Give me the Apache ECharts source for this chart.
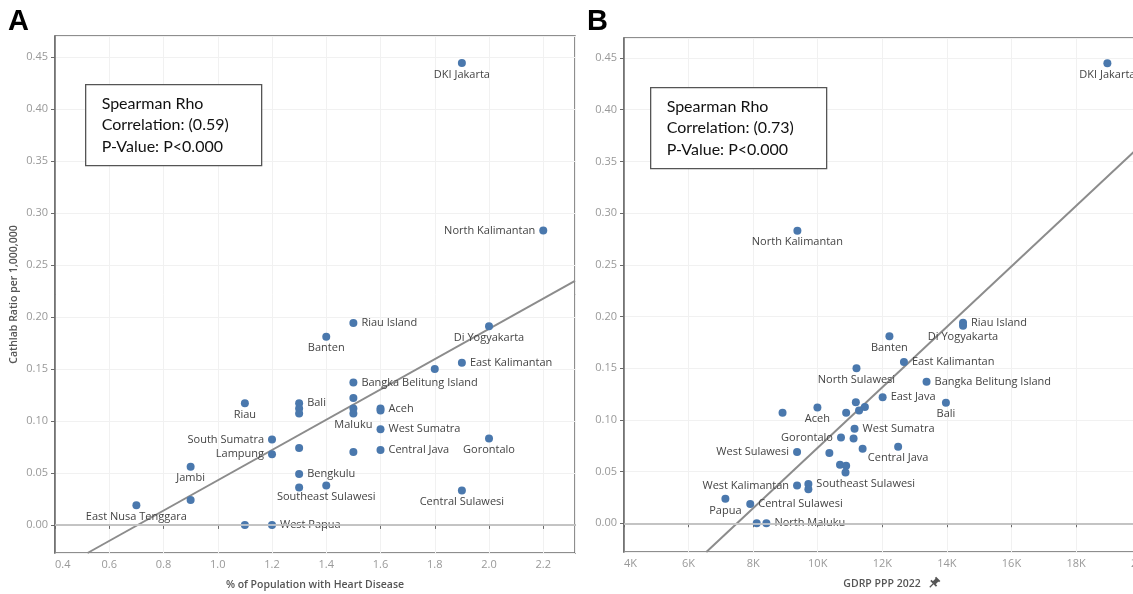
<!DOCTYPE html>
<html>
<head>
<meta charset="utf-8">
<title>Cathlab ratio vs heart disease and GDRP</title>
<script src="https://cdn.jsdelivr.net/npm/echarts@6/dist/echarts.min.js"></script>
<style>
  html, body { margin: 0; padding: 0; background: #fff; }
  #chart { width: 1133px; height: 594px; }
</style>
</head>
<body>
<div id="chart"></div>
<script>
// panel A: % of population with heart disease vs cathlab ratio
const namesA = ['DKI Jakarta', 'North Kalimantan', 'Riau Island', 'Banten', 'Di Yogyakarta', 'East Kalimantan', '', 'Bangka Belitung Island', '', 'Riau',
  'Bali', '', '', '', 'Maluku', 'Aceh', '', 'West Sumatra', 'South Sumatra', '', 'Lampung', '', 'Central Java', 'Gorontalo', 'Jambi',
  'Bengkulu', '', 'Southeast Sulawesi', 'Central Sulawesi', '', 'East Nusa Tenggara', '', 'West Papua']
const heartA = [1.9, 2.2, 1.5, 1.4, 2.0, 1.9, 1.8, 1.5, 1.5, 1.1,
  1.3, 1.3, 1.3, 1.5, 1.5, 1.6, 1.6, 1.6, 1.2, 1.3, 1.2, 1.5, 1.6, 2.0, 0.9,
  1.3, 1.3, 1.4, 1.9, 0.9, 0.7, 1.1, 1.2]
const cathA = [0.444, 0.283, 0.194, 0.181, 0.191, 0.156, 0.150, 0.137, 0.122, 0.117,
  0.117, 0.112, 0.107, 0.112, 0.107, 0.112, 0.110, 0.092, 0.082, 0.074, 0.068, 0.070, 0.072, 0.083, 0.056,
  0.049, 0.036, 0.038, 0.033, 0.024, 0.019, 0.000, 0.000]
const trendA = [[0.52, -0.027], [2.317, 0.2345]]

// panel B: GDRP PPP 2022 vs cathlab ratio
const namesB = ['DKI Jakarta', 'North Kalimantan', 'Riau Island', 'Di Yogyakarta', 'Banten', 'East Kalimantan', 'North Sulawesi', 'Bangka Belitung Island', 'East Java', 'Bali',
  '', '', '', '', 'Aceh', '', 'West Sumatra', 'Gorontalo', '', 'Central Java', '', 'West Sulawesi', '', '', '',
  '', 'West Kalimantan', 'Southeast Sulawesi', '', 'Papua', 'Central Sulawesi', '', 'North Maluku']
const gdrpB = [18970, 9370, 14500, 14500, 12220, 12670, 11200, 13370, 12010, 13970,
  11180, 11460, 11280, 10880, 9990, 8910, 11140, 10720, 11110, 12490, 11390, 9360, 10360, 10690, 10880,
  10860, 9360, 9710, 9710, 7140, 7910, 8110, 8410]
const cathB = [0.445, 0.283, 0.194, 0.191, 0.181, 0.156, 0.150, 0.137, 0.122, 0.1166,
  0.117, 0.1125, 0.109, 0.107, 0.112, 0.107, 0.0914, 0.083, 0.082, 0.074, 0.072, 0.069, 0.068, 0.0565, 0.0556,
  0.049, 0.0365, 0.038, 0.033, 0.0236, 0.0187, 0, 0]
const trendB = [[6550, -0.0278], [20600, 0.3829]]

const statsA = ['Spearman Rho', 'Correlation: (0.59)', 'P-Value: P<0.000']
const statsB = ['Spearman Rho', 'Correlation: (0.73)', 'P-Value: P<0.000']

const labelSideA = {
  'DKI Jakarta': 'bottom', 'North Kalimantan': 'left', 'Riau Island': 'right', 'Banten': 'bottom',
  'Di Yogyakarta': 'bottom', 'East Kalimantan': 'right', 'Bangka Belitung Island': 'right', 'Riau': 'bottom',
  'Bali': 'right', 'Maluku': 'bottom', 'Aceh': 'right', 'West Sumatra': 'right', 'South Sumatra': 'left',
  'Lampung': 'left', 'Central Java': 'right', 'Gorontalo': 'bottom', 'Jambi': 'bottom', 'Bengkulu': 'right',
  'Southeast Sulawesi': 'bottom', 'Central Sulawesi': 'bottom', 'East Nusa Tenggara': 'bottom', 'West Papua': 'right'
}
const labelSideB = {
  'DKI Jakarta': 'bottom', 'North Kalimantan': 'bottom', 'Riau Island': 'right', 'Di Yogyakarta': 'bottom',
  'Banten': 'bottom', 'East Kalimantan': 'right', 'North Sulawesi': 'bottom', 'Bangka Belitung Island': 'right',
  'East Java': 'right', 'Bali': 'bottom', 'Aceh': 'bottom', 'West Sumatra': 'right', 'Gorontalo': 'left',
  'Central Java': 'bottom', 'West Sulawesi': 'left', 'West Kalimantan': 'left', 'Southeast Sulawesi': 'right',
  'Papua': 'bottom', 'Central Sulawesi': 'right', 'North Maluku': 'right'
}

const FONT = 'Open Sans'
const BLUE = '#4a78ad'
const FRAME = '#6a6a6a'

function points (xs, ys, names, sides) {
  return xs.map((x, i) => {
    const name = names[i]
    const side = sides[name]
    return {
      name: name,
      value: [x, ys[i]],
      label: name ? {
        show: true,
        position: side,
        distance: side === 'bottom' ? 2 : 4,
        formatter: '{b}'
      } : { show: false }
    }
  })
}

function near (v, step) {
  const k = Math.round(v / step)
  return Math.abs(v - k * step) < step * 1e-3
}

function xAxisOpt (idx, min, max, step, fmt, name, pad) {
  return {
    type: 'value',
    gridIndex: idx,
    min: min,
    max: max,
    minInterval: step,
    maxInterval: step,
    name: name,
    nameLocation: 'middle',
    nameGap: 27,
    nameTextStyle: { fontFamily: FONT, fontSize: 10.5, fontWeight: 600, color: '#555', padding: pad },
    axisLine: { show: true, lineStyle: { color: FRAME, width: 1.5 } },
    axisTick: { show: true, length: 4, lineStyle: { color: FRAME } },
    axisLabel: {
      margin: 6,
      fontFamily: FONT,
      fontSize: 11,
      color: '#999',
      showMaxLabel: false,
      alignMinLabel: 'left',
      formatter: v => near(v, step) ? fmt(v) : ''
    },
    splitLine: { show: true, lineStyle: { color: '#f1f1f1', width: 1 } }
  }
}

function yAxisOpt (idx, min, max, name) {
  return {
    type: 'value',
    gridIndex: idx,
    min: min,
    max: max,
    minInterval: 0.05,
    maxInterval: 0.05,
    name: name,
    nameLocation: 'middle',
    nameGap: 35,
    nameTextStyle: { fontFamily: FONT, fontSize: 10.5, fontWeight: 600, color: '#555' },
    axisLine: { show: true, lineStyle: { color: FRAME, width: 1.5 } },
    axisTick: { show: true, length: 4, lineStyle: { color: FRAME } },
    axisLabel: {
      margin: 7,
      fontFamily: FONT,
      fontSize: 11,
      color: '#999',
      showMinLabel: false,
      showMaxLabel: false,
      formatter: v => near(v, 0.05) ? Math.abs(v).toFixed(2) : ''
    },
    splitLine: { show: true, lineStyle: { color: '#f1f1f1', width: 1 } }
  }
}

function scatterSeries (idx, data) {
  return {
    type: 'scatter',
    xAxisIndex: idx,
    yAxisIndex: idx,
    symbolSize: 8,
    itemStyle: { color: BLUE, opacity: 1 },
    label: { fontFamily: FONT, fontSize: 11, color: '#444' },
    data: data,
    z: 3,
    markLine: {
      silent: true,
      symbol: 'none',
      label: { show: false },
      lineStyle: { color: '#d6d6d6', width: 1.5, type: 'solid' },
      data: [{ yAxis: 0 }]
    }
  }
}

function trendSeries (idx, data) {
  return {
    type: 'line',
    xAxisIndex: idx,
    yAxisIndex: idx,
    data: data,
    symbol: 'none',
    silent: true,
    clip: true,
    lineStyle: { color: '#8c8c8c', width: 2 },
    z: 2
  }
}

function statsBox (x, y, lines) {
  return {
    type: 'group',
    left: x,
    top: y,
    z: 100,
    children: [
      {
        type: 'rect',
        z: 100,
        shape: { x: 0, y: 0, width: 176, height: 81 },
        style: { fill: '#fff', stroke: '#555', lineWidth: 1.3 }
      },
      {
        type: 'text',
        z: 101,
        x: 16,
        y: 8,
        style: {
          text: lines.join('\n'),
          font: '16px Lato',
          lineHeight: 21.5,
          fill: '#111'
        }
      }
    ]
  }
}

const chart = echarts.init(document.getElementById('chart'), null, { renderer: 'canvas' })
chart.setOption({
  animation: false,
  backgroundColor: '#fff',
  grid: [
    { left: 55, top: 36, width: 520, height: 517, show: true, borderColor: FRAME, borderWidth: 1.5, containLabel: false, outerBoundsMode: 'none' },
    { left: 624, top: 38, width: 536, height: 514, show: true, borderColor: FRAME, borderWidth: 1.5, containLabel: false, outerBoundsMode: 'none' }
  ],
  xAxis: [
    xAxisOpt(0, 0.4, 2.317, 0.2, v => v.toFixed(1), '% of Population with Heart Disease', 0),
    xAxisOpt(1, 4000, 20600, 2000, v => (v / 1000) + 'K', 'GDRP PPP 2022', [0, 20, 0, 0])
  ],
  yAxis: [
    yAxisOpt(0, -0.027, 0.470, 'Cathlab Ratio per 1,000,000'),
    yAxisOpt(1, -0.0278, 0.4694, '')
  ],
  series: [
    trendSeries(0, trendA),
    scatterSeries(0, points(heartA, cathA, namesA, labelSideA)),
    trendSeries(1, trendB),
    scatterSeries(1, points(gdrpB, cathB, namesB, labelSideB))
  ],
  graphic: [
    { type: 'text', left: 8, top: 7, z: 100, style: { text: 'A', font: 'bold 29px "Liberation Sans"', fill: '#000' } },
    { type: 'text', left: 587, top: 7, z: 100, style: { text: 'B', font: 'bold 29px "Liberation Sans"', fill: '#000' } },
    statsBox(85, 84, statsA),
    statsBox(650, 87, statsB),
    // pin icon next to the GDRP axis title
    {
      type: 'group',
      x: 934,
      y: 583,
      z: 100,
      rotation: -Math.PI / 4,
      children: [
        { type: 'rect', shape: { x: -3, y: -6, width: 6, height: 1.8 }, style: { fill: '#555' } },
        { type: 'rect', shape: { x: -2, y: -5, width: 4, height: 5 }, style: { fill: '#555' } },
        { type: 'rect', shape: { x: -4, y: -0.5, width: 8, height: 1.8 }, style: { fill: '#555' } },
        { type: 'line', shape: { x1: 0, y1: 1, x2: 0, y2: 6 }, style: { stroke: '#555', lineWidth: 1.2 } }
      ]
    }
  ]
})
</script>
</body>
</html>
